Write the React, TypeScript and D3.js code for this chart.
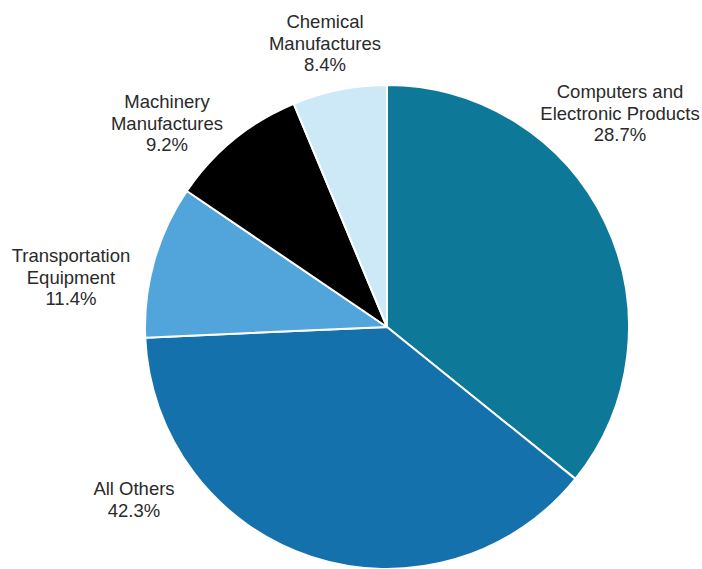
import React from "react";
import * as d3 from "d3";

// Categories in clockwise order starting at 12 o'clock
const categories = [
  ["Computers and", "Electronic Products"],
  ["All Others"],
  ["Transportation", "Equipment"],
  ["Machinery", "Manufactures"],
  ["Chemical", "Manufactures"],
];
// Printed percentage labels
const labelPercents = ["28.7%", "42.3%", "11.4%", "9.2%", "8.4%"];
// Slice shares as drawn in the picture (angle share, %)
const sliceShares = [35.8, 38.5, 10.2, 9.2, 6.3];

const colors = ["#0d7897", "#1571ab", "#52a5db", "#000000", "#cde9f8"];
// Label anchor points (center x, first baseline y)
const labelAnchors: [number, number][] = [
  [620, 98],
  [134, 495],
  [71, 262],
  [167, 108],
  [325, 28],
];

const W = 702;
const H = 569;
const CX = 387;
const CY = 327;
const R = 242;

export default function App() {
  const pie = d3
    .pie<number>()
    .sort(null)
    .value((d) => d)
    .startAngle(0)
    .endAngle(2 * Math.PI);
  const arcs = pie(sliceShares);
  const arc = d3.arc<d3.PieArcDatum<number>>().innerRadius(0).outerRadius(R);
  const lineH = 21.5;

  return (
    <svg
      width={W}
      height={H}
      style={{ position: "absolute", left: 0, top: 0, background: "#fff" }}
      fontFamily="'Liberation Sans', Arial, Helvetica, sans-serif"
    >
      <g transform={`translate(${CX},${CY})`}>
        {arcs.map((a, i) => (
          <path
            key={i}
            d={arc(a) || ""}
            fill={colors[i]}
            stroke="#ffffff"
            strokeWidth={2}
            strokeLinejoin="round"
          />
        ))}
      </g>
      {categories.map((lines, i) => {
        const [x, y] = labelAnchors[i];
        const all = [...lines, labelPercents[i]];
        return (
          <text key={i} textAnchor="middle" fontSize={18.5} fill="#2a2a2a">
            {all.map((t, j) => (
              <tspan key={j} x={x} y={y + j * lineH}>
                {t}
              </tspan>
            ))}
          </text>
        );
      })}
    </svg>
  );
}
